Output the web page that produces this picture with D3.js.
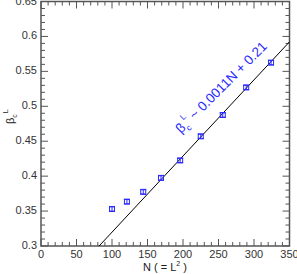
<!DOCTYPE html>
<html>
<head>
<meta charset="utf-8">
<script src="https://cdn.jsdelivr.net/npm/d3@7"></script>
<style>
  body { margin: 0; background: #fff; }
  text { font-family: "Liberation Sans", Arial, sans-serif; }
</style>
</head>
<body>
<svg id="chart" width="297" height="274"></svg>
<script>
// data
var sizeN = [100, 121, 144, 169, 196, 225, 256, 289, 324]
var betaC = [0.353, 0.3635, 0.3775, 0.3975, 0.4225, 0.457, 0.4875, 0.527, 0.5625]
var betaErr = [0.003, 0.003, 0.003, 0.003, 0.003, 0.003, 0.003, 0.003, 0.003]
var fitSlope = 0.00109
var fitIntercept = 0.2108
var xTicks = [0, 50, 100, 150, 200, 250, 300, 350]
var yTicks = [0.3, 0.35, 0.4, 0.45, 0.5, 0.55, 0.6, 0.65]

// plot box (note: "top" is taken by window.top, so use other names)
var svg = d3.select('#chart')
  , boxL = 41, boxR = 289.5, boxT = 1.5, boxB = 246
  , axisColor = '#555'
  , blue = '#2a2aff'

var x = d3.scaleLinear().domain([0, 350]).range([boxL, boxR])
var y = d3.scaleLinear().domain([0.3, 0.65]).range([boxB, boxT])

// ticks on all four sides, pointing inward
var minorX = d3.range(0, 351, 10)
  , minorY = d3.range(0, 36).map(function(i) { return 0.3 + i * 0.01 })
var ticks = svg.append('g').attr('stroke', axisColor).attr('stroke-width', 1)

minorX.forEach(function(v) {
  var len = v % 50 === 0 ? 7 : 4
  ticks.append('line').attr('x1', x(v)).attr('x2', x(v)).attr('y1', boxB).attr('y2', boxB - len)
  ticks.append('line').attr('x1', x(v)).attr('x2', x(v)).attr('y1', boxT).attr('y2', boxT + len)
})
minorY.forEach(function(v, i) {
  var len = i % 5 === 0 ? 7 : 4
  ticks.append('line').attr('y1', y(v)).attr('y2', y(v)).attr('x1', boxL).attr('x2', boxL + len)
  ticks.append('line').attr('y1', y(v)).attr('y2', y(v)).attr('x1', boxR).attr('x2', boxR - len)
})

svg.append('rect')
  .attr('x', boxL).attr('y', boxT)
  .attr('width', boxR - boxL).attr('height', boxB - boxT)
  .attr('fill', 'none').attr('stroke', axisColor).attr('stroke-width', 1.5)

// tick labels
svg.append('g').selectAll('text').data(xTicks).enter().append('text')
  .attr('x', function(d) { return x(d) }).attr('y', boxB + 11.5)
  .attr('text-anchor', 'middle').attr('font-size', 11).attr('fill', '#333')
  .text(function(d) { return d })

svg.append('g').selectAll('text').data(yTicks).enter().append('text')
  .attr('x', boxL - 4).attr('y', function(d) { return y(d) + 3 })
  .attr('text-anchor', 'end').attr('font-size', 11).attr('fill', '#333')
  .text(function(d) { return d })

// axis titles
var xl = svg.append('text').attr('x', 165).attr('y', 271)
  .attr('text-anchor', 'middle').attr('font-size', 11).attr('fill', '#222')
xl.append('tspan').text('N ( = L')
xl.append('tspan').attr('font-size', 7).attr('dy', -5).text('2')
xl.append('tspan').attr('dy', 5).text(' )')

var yl = svg.append('text').attr('transform', 'translate(14,124) rotate(-90)')
  .attr('font-size', 11).attr('fill', '#222')
yl.append('tspan').text('β')
yl.append('tspan').attr('font-size', 7).attr('dy', 3).text('c')
yl.append('tspan').attr('font-size', 7).attr('dy', -9).attr('dx', -1).text(' L')

// fit line, clipped to plot area
var nStart = (0.3 - fitIntercept) / fitSlope
svg.append('line')
  .attr('x1', x(nStart)).attr('y1', y(0.3))
  .attr('x2', x(350)).attr('y2', y(fitSlope * 350 + fitIntercept))
  .attr('stroke', '#000').attr('stroke-width', 1)

// data points with error bars
var pts = svg.append('g').attr('stroke', blue).attr('fill', 'none').attr('stroke-width', 1)
sizeN.forEach(function(n, i) {
  var cx = x(n), lo = y(betaC[i] - betaErr[i]), hi = y(betaC[i] + betaErr[i])
  pts.append('line').attr('x1', cx).attr('x2', cx).attr('y1', lo).attr('y2', hi)
  pts.append('line').attr('x1', cx - 3).attr('x2', cx + 3).attr('y1', lo).attr('y2', lo)
  pts.append('line').attr('x1', cx - 3).attr('x2', cx + 3).attr('y1', hi).attr('y2', hi)
  pts.append('rect').attr('x', cx - 2.5).attr('y', y(betaC[i]) - 2.5)
    .attr('width', 5).attr('height', 5)
})

// fit annotation
var ann = svg.append('text').attr('transform', 'translate(181,134) rotate(-45)')
  .attr('font-size', 13.5).attr('fill', blue)
ann.append('tspan').text('β')
ann.append('tspan').attr('font-size', 8.5).attr('dy', 4).text('c')
ann.append('tspan').attr('font-size', 8.5).attr('dy', -12).attr('dx', -1).text('L')
ann.append('tspan').attr('dy', 8).text(' ~ 0.0011N + 0.21')
</script>
</body>
</html>
